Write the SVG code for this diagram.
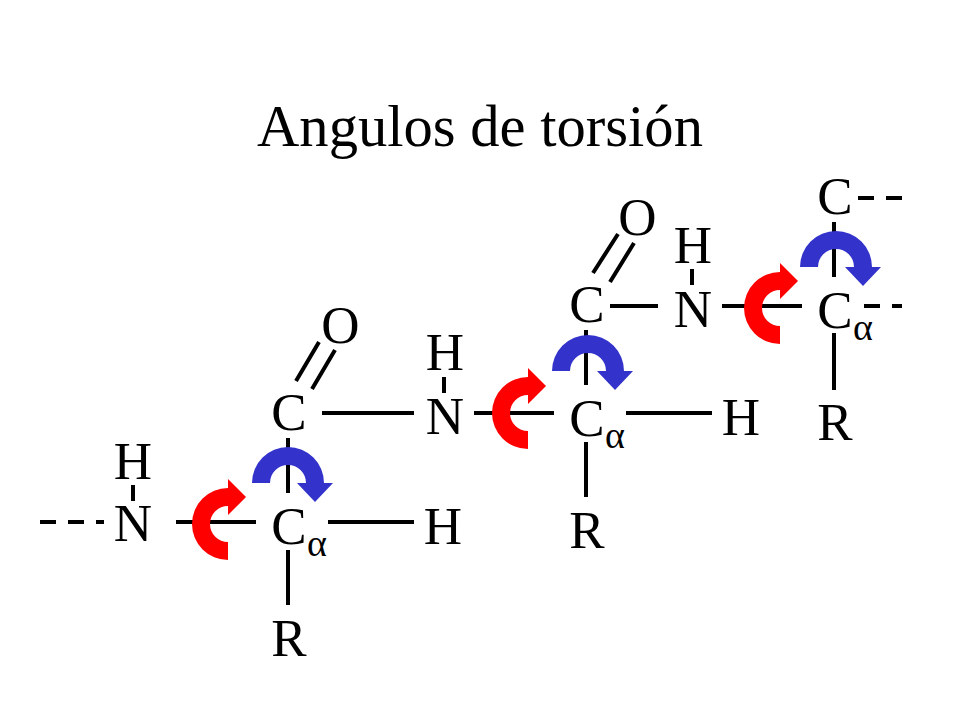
<svg xmlns="http://www.w3.org/2000/svg" width="960" height="720" viewBox="0 0 960 720">
<style>
text{font-family:"Liberation Serif","Times New Roman",serif;fill:#000;font-size:53px;text-anchor:middle}
.title{font-size:58.6px}
.sub{font-size:38px;text-anchor:start}
.b{stroke:#000;stroke-width:4;fill:none}
.red{fill:#fe0000}
.blue{fill:#3333cc}
</style>
<defs>
<path id="redArrow" d="M36 36A36 36 0 0 1 36 -36V-45L54 -27L36 -9V-18A18 18 0 0 0 36 18Z"/>
<path id="blueArrow" d="M-36 -1A36 36 0 0 1 36 -1H45L27 18L9 -1H18A18 18 0 0 0 -18 -1Z"/>
</defs>
<rect width="960" height="720" fill="#fff"/>
<text class="title" x="480" y="146">Angulos de torsión</text>
<g id="connectors" class="b">
<path d="M40 522H56M68 522H84M96 522H104M133 485V501M176 522H256M328 522H414M288 438V493M288 550V605"/>
<path d="M296 381L319 342M312 389L335 350"/>
<path d="M322 413H414M444 377V393M474 413H554M626 413H712M586 330V385M586 442V497"/>
<path d="M593 273L618 234M610 282L634 243"/>
<path d="M610 306H658M692 269V285M722 306H802M834 222V277M834 333V390"/>
<path d="M858 198H874M886 198H902M864 306H880M892 306H902"/>
</g>
<g id="n1"><text x="133" y="541">N</text></g>
<g id="h1"><text x="133" y="479">H</text></g>
<g id="ca1"><text x="289" y="544">C</text><text class="sub" x="307" y="556">α</text></g>
<g id="h2"><text x="443" y="544">H</text></g>
<g id="r1"><text x="289" y="656">R</text></g>
<g id="c1"><text x="289" y="430">C</text></g>
<g id="o1"><text x="340.500" y="343">O</text></g>
<g id="n2"><text x="445" y="434">N</text></g>
<g id="h3"><text x="445" y="370">H</text></g>
<g id="ca2"><text x="587" y="436">C</text><text class="sub" x="605" y="448">α</text></g>
<g id="h4"><text x="741" y="435">H</text></g>
<g id="r2"><text x="587" y="548">R</text></g>
<g id="c2"><text x="587" y="322">C</text></g>
<g id="o2"><text x="637.500" y="235">O</text></g>
<g id="n3"><text x="693" y="327">N</text></g>
<g id="h5"><text x="693" y="263">H</text></g>
<g id="ca3"><text x="835" y="328">C</text><text class="sub" x="853" y="340">α</text></g>
<g id="r3"><text x="835" y="440">R</text></g>
<g id="c3"><text x="835" y="214">C</text></g>
<g id="arrows">
<use href="#redArrow" class="red" x="192" y="524"/>
<use href="#blueArrow" class="blue" x="288" y="484"/>
<use href="#redArrow" class="red" x="492" y="413"/>
<use href="#blueArrow" class="blue" x="588" y="372"/>
<use href="#redArrow" class="red" x="744" y="308"/>
<use href="#blueArrow" class="blue" x="836" y="268"/>
</g>
</svg>
